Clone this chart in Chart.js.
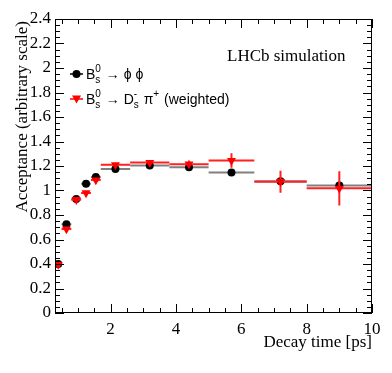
<!DOCTYPE html>
<html>
<head>
<meta charset="utf-8">
<script src="https://cdn.jsdelivr.net/npm/chart.js@4.4.1/dist/chart.umd.min.js"></script>
<style>
  html, body { margin: 0; padding: 0; background: #fff; }
  #wrap { width: 392px; height: 373px; }
</style>
</head>
<body>
<div id="wrap"><canvas id="c" width="392" height="373"></canvas></div>
<script>
// decay time bins [ps]
const binLow = [0.3, 0.5, 0.8, 1.1, 1.4, 1.7, 2.6, 3.8, 5.0, 6.4, 8.0]
const binHigh = [0.5, 0.8, 1.1, 1.4, 1.7, 2.6, 3.8, 5.0, 6.4, 8.0, 10.0]
const binCenter = [0.4, 0.65, 0.95, 1.25, 1.55, 2.15, 3.2, 4.4, 5.7, 7.2, 9.0]

// Bs -> phi phi
const phiphi = [0.40, 0.725, 0.93, 1.055, 1.11, 1.175, 1.205, 1.19, 1.147, 1.075, 1.04]
const phiphiErr = [0.008, 0.01, 0.01, 0.01, 0.01, 0.008, 0.008, 0.01, 0.012, 0.02, 0.03]

// Bs -> Ds pi (weighted)
const dspi = [0.395, 0.685, 0.925, 0.98, 1.085, 1.21, 1.228, 1.215, 1.245, 1.072, 1.018]
const dspiErr = [0.01, 0.02, 0.015, 0.015, 0.02, 0.015, 0.02, 0.03, 0.06, 0.09, 0.14]

const xTicks = [2, 4, 6, 8, 10]
const yTicks = [0, 0.2, 0.4, 0.6, 0.8, 1, 1.2, 1.4, 1.6, 1.8, 2, 2.2, 2.4]

const serif = "'Liberation Serif', 'Times New Roman', serif"
const sans = "'Liberation Sans', Arial, sans-serif"

const points = (ys) => binCenter.map((x, i) => ({ x: x, y: ys[i] }))

// error bars drawn just before each dataset's markers
const errorBars = {
  id: 'errorBars',
  beforeDatasetDraw(chart, args) {
    const ds = chart.data.datasets[args.index]
    const { x, y } = chart.scales
    const ctx = chart.ctx
    ctx.save()
    ctx.strokeStyle = ds.barColor
    ctx.lineWidth = 2
    ds.yErr.forEach((e, i) => {
      const py = y.getPixelForValue(ds.data[i].y)
      const px = x.getPixelForValue(binCenter[i])
      ctx.beginPath()
      ctx.moveTo(x.getPixelForValue(binLow[i]), py)
      ctx.lineTo(x.getPixelForValue(binHigh[i]), py)
      ctx.moveTo(px, y.getPixelForValue(ds.data[i].y - e))
      ctx.lineTo(px, y.getPixelForValue(ds.data[i].y + e))
      ctx.stroke()
    })
    ctx.restore()
  }
}

function drawRich(ctx, x, y, parts, color) {
  ctx.fillStyle = color
  ctx.textAlign = 'left'
  ctx.textBaseline = 'alphabetic'
  parts.forEach(p => {
    if (p.t !== undefined) {
      ctx.font = '14px ' + sans
      ctx.fillText(p.t, x, y)
      x += ctx.measureText(p.t).width
    } else {
      ctx.font = '10px ' + sans
      let w = 0
      if (p.sub) { ctx.fillText(p.sub, x, y + 4); w = Math.max(w, ctx.measureText(p.sub).width) }
      if (p.sup) { ctx.fillText(p.sup, x, y - 7); w = Math.max(w, ctx.measureText(p.sup).width) }
      x += w + 1
    }
  })
}

const frame = {
  id: 'frame',
  beforeDraw(chart) {
    const ctx = chart.ctx
    ctx.save()
    ctx.fillStyle = '#fff'
    ctx.fillRect(0, 0, chart.width, chart.height)
    ctx.restore()
  },
  afterDraw(chart) {
    const ctx = chart.ctx
    const { left, right, top, bottom } = chart.chartArea
    const { x, y } = chart.scales
    ctx.save()
    ctx.strokeStyle = '#000'
    ctx.lineWidth = 1
    ctx.strokeRect(left + 0.5, top + 0.5, right - left - 1, bottom - top - 1)

    // inward ticks on all four sides
    ctx.beginPath()
    for (let v = 0.5; v <= 10.001; v += 0.5) {
      const px = Math.round(x.getPixelForValue(v)) + 0.5
      const len = Math.abs(v % 2) < 1e-6 ? 9 : 5
      ctx.moveTo(px, bottom); ctx.lineTo(px, bottom - len)
      ctx.moveTo(px, top); ctx.lineTo(px, top + len)
    }
    for (let k = 0; k <= 48; k++) {
      const v = k * 0.05
      const py = Math.round(y.getPixelForValue(v)) + 0.5
      const len = k % 4 === 0 ? 9 : 5
      ctx.moveTo(left, py); ctx.lineTo(left + len, py)
      ctx.moveTo(right, py); ctx.lineTo(right - len, py)
    }
    ctx.stroke()

    // axis titles
    ctx.fillStyle = '#000'
    ctx.font = '17px ' + serif
    ctx.textAlign = 'right'
    ctx.textBaseline = 'alphabetic'
    ctx.fillText('Decay time [ps]', right, 347)
    ctx.save()
    ctx.translate(27, top + 2)
    ctx.rotate(-Math.PI / 2)
    ctx.fillText('Acceptance (arbitrary scale)', 0, 0)
    ctx.restore()

    ctx.textAlign = 'left'
    ctx.fillText('LHCb simulation', 227, 61)

    // legend
    const rows = [
      { y: 74, color: '#000', parts: [{ t: 'B' }, { sub: 's', sup: '0' }, { t: ' \u2192 \u03d5 \u03d5' }] },
      { y: 99, color: '#f00', parts: [{ t: 'B' }, { sub: 's', sup: '0' }, { t: ' \u2192 D' }, { sub: 's', sup: '-' }, { t: ' \u03c0' }, { sup: '+' }, { t: ' (weighted)' }] }
    ]
    rows.forEach((r, i) => {
      ctx.strokeStyle = r.color
      ctx.lineWidth = 1.5
      ctx.beginPath()
      ctx.moveTo(70, r.y); ctx.lineTo(83, r.y)
      ctx.stroke()
      ctx.fillStyle = r.color
      ctx.beginPath()
      if (i === 0) {
        ctx.arc(76.5, r.y, 4, 0, Math.PI * 2)
      } else {
        ctx.moveTo(72, r.y - 3.5); ctx.lineTo(81, r.y - 3.5); ctx.lineTo(76.5, r.y + 4.5)
        ctx.closePath()
      }
      ctx.fill()
      drawRich(ctx, 86, r.y + 5, r.parts, '#000')
    })
    ctx.restore()
  }
}

new Chart(document.getElementById('c'), {
  type: 'scatter',
  data: {
    datasets: [
      {
        label: 'Bs -> Ds pi (weighted)',
        data: points(dspi),
        yErr: dspiErr,
        barColor: '#ff2020',
        pointStyle: 'triangle',
        rotation: 180,
        radius: 5.2,
        backgroundColor: '#ff0000',
        borderColor: '#ff0000',
        borderWidth: 0
      },
      {
        label: 'Bs -> phi phi',
        data: points(phiphi),
        yErr: phiphiErr,
        barColor: '#808080',
        pointStyle: 'circle',
        radius: 4,
        backgroundColor: '#000',
        borderColor: '#000',
        borderWidth: 0
      }
    ]
  },
  options: {
    responsive: false,
    animation: false,
    events: [],
    layout: { padding: { top: 19, right: 20, left: 0, bottom: 0 } },
    plugins: { legend: { display: false }, tooltip: { enabled: false } },
    scales: {
      x: {
        type: 'linear',
        min: 0.3,
        max: 10,
        grid: { display: false, drawTicks: false },
        border: { display: false },
        afterBuildTicks: (scale) => { scale.ticks = xTicks.map(v => ({ value: v })) },
        afterFit: (scale) => { scale.height = 60 },
        ticks: {
          autoSkip: false,
          maxRotation: 0,
          padding: 6,
          color: '#000',
          font: { family: serif, size: 17 },
          callback: (v) => String(v)
        }
      },
      y: {
        type: 'linear',
        min: 0,
        max: 2.4,
        grid: { display: false, drawTicks: false },
        border: { display: false },
        afterBuildTicks: (scale) => { scale.ticks = yTicks.map(v => ({ value: v })) },
        afterFit: (scale) => { scale.width = 55 },
        ticks: {
          autoSkip: false,
          padding: 4,
          color: '#000',
          font: { family: serif, size: 17 },
          callback: (v) => String(+v.toFixed(1))
        }
      }
    }
  },
  plugins: [errorBars, frame]
})
</script>
</body>
</html>
